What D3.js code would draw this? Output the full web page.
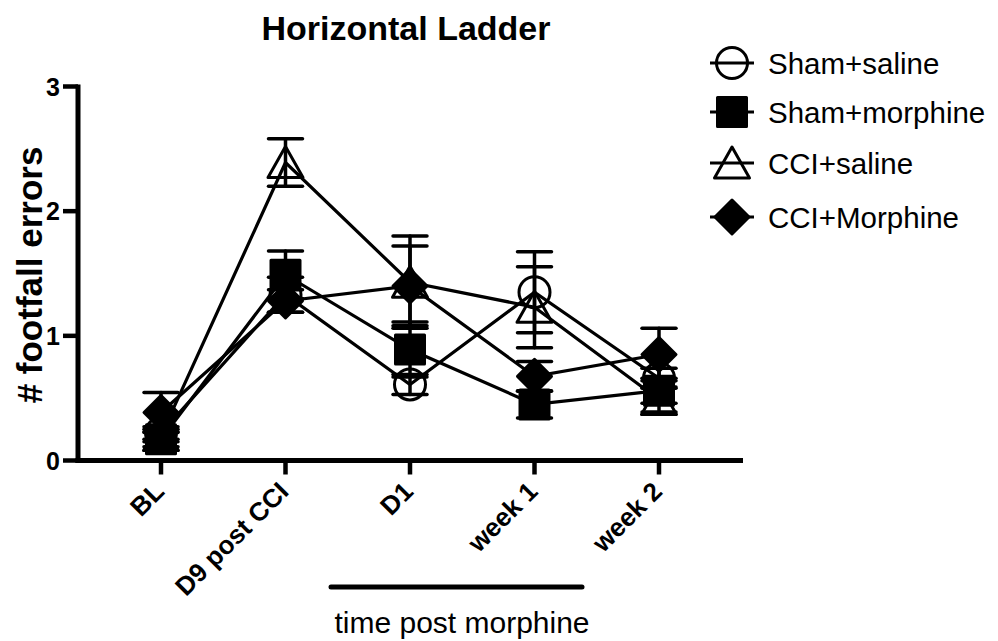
<!DOCTYPE html>
<html>
<head>
<meta charset="utf-8">
<script src="https://cdn.jsdelivr.net/npm/d3@7"></script>
<style>
  html, body { margin: 0; padding: 0; background: #fff; }
  svg { display: block; font-family: "Liberation Sans", Arial, Helvetica, sans-serif; }
</style>
</head>
<body>
<svg id="chart" width="998" height="641"></svg>
<script>
// Time points on the x axis
const timepoints = ["BL", "D9 post CCI", "D1", "week 1", "week 2"];

// Group means (# footfall errors) and SEM per time point
const shamSalineMean     = [0.22, 1.33, 0.61, 1.35, 0.66];
const shamSalineErr      = [0.05, 0.14, 0.08, 0.325, 0.08];
const shamMorphineMean   = [0.17, 1.49, 0.89, 0.45, 0.56];
const shamMorphineErr    = [0.06, 0.19, 0.22, 0.11, 0.10];
const cciSalineMean      = [0.20, 2.39, 1.43, 1.23, 0.49];
const cciSalineErr       = [0.05, 0.19, 0.37, 0.325, 0.10];
const cciMorphineMean    = [0.385, 1.28, 1.40, 0.675, 0.85];
const cciMorphineErr     = [0.16, 0.09, 0.32, 0.12, 0.21];

const seriesNames = ["Sham+saline", "Sham+morphine", "CCI+saline", "CCI+Morphine"];
const seriesSymbols = ["circle", "square", "triangle", "diamond"];

const yTicks = [0, 1, 2, 3];

const series = [
  { name: seriesNames[0], symbol: seriesSymbols[0], mean: shamSalineMean,   err: shamSalineErr },
  { name: seriesNames[1], symbol: seriesSymbols[1], mean: shamMorphineMean, err: shamMorphineErr },
  { name: seriesNames[2], symbol: seriesSymbols[2], mean: cciSalineMean,    err: cciSalineErr },
  { name: seriesNames[3], symbol: seriesSymbols[3], mean: cciMorphineMean,  err: cciMorphineErr }
];

const svg = d3.select("#chart");

const x = d3.scalePoint().domain(timepoints).range([161, 659]);
const y = d3.scaleLinear().domain([0, 3]).range([460.5, 86.5]);

const axisLeftX = 78;
const axisRightX = 743;

// Marker outlines (open circle/triangle, filled square/diamond)
function markerPath(kind) {
  switch (kind) {
    case "circle": {
      const p = d3.path(); p.arc(0, 0, 15.5, 0, Math.PI * 2); p.closePath(); return p.toString();
    }
    case "square": return "M-14.5,-14.5H14.5V14.5H-14.5Z";
    case "triangle": return "M0,-16L17.5,15H-17.5Z";
    case "diamond": return "M0,-17L17,0L0,17L-17,0Z";
  }
}
const filled = { circle: false, square: true, triangle: false, diamond: true };

function drawMarker(g, kind, cx, cy) {
  g.append("path")
    .attr("d", markerPath(kind))
    .attr("transform", `translate(${cx},${cy})`)
    .attr("fill", filled[kind] ? "#000" : "none")
    .attr("stroke", "#000")
    .attr("stroke-width", 3)
    .attr("stroke-linejoin", "round");
}

const plot = svg.append("g");

// Connecting lines
const line = d3.line().x((d, i) => x(timepoints[i])).y(d => y(d));
series.forEach(s => {
  plot.append("path")
    .attr("d", line(s.mean))
    .attr("fill", "none")
    .attr("stroke", "#000")
    .attr("stroke-width", 3.2);
});

// Error bars
series.forEach(s => {
  s.mean.forEach((m, i) => {
    const cx = x(timepoints[i]);
    const g = plot.append("g").attr("stroke", "#000").attr("stroke-width", 3.5).attr("stroke-linecap", "round");
    g.append("line").attr("x1", cx).attr("x2", cx).attr("y1", y(m - s.err[i])).attr("y2", y(m + s.err[i]));
    [m - s.err[i], m + s.err[i]].forEach(v => {
      g.append("line").attr("x1", cx - 17).attr("x2", cx + 17).attr("y1", y(v)).attr("y2", y(v));
    });
  });
});

// Markers
series.forEach(s => {
  s.mean.forEach((m, i) => drawMarker(plot, s.symbol, x(timepoints[i]), y(m)));
});

// Y axis
const yAxis = svg.append("g");
yAxis.append("line")
  .attr("x1", axisLeftX).attr("x2", axisLeftX)
  .attr("y1", y(3) - 2).attr("y2", y(0) + 2.5)
  .attr("stroke", "#000").attr("stroke-width", 5);
yTicks.forEach(t => {
  yAxis.append("line")
    .attr("x1", axisLeftX - 15).attr("x2", axisLeftX)
    .attr("y1", y(t)).attr("y2", y(t))
    .attr("stroke", "#000").attr("stroke-width", 4.5);
  yAxis.append("text")
    .attr("x", 60).attr("y", y(t))
    .attr("dy", "0.36em")
    .attr("text-anchor", "end")
    .attr("font-size", 25).attr("font-weight", "bold")
    .text(t);
});

// X axis
const xAxis = svg.append("g");
xAxis.append("line")
  .attr("x1", axisLeftX - 2.5).attr("x2", axisRightX)
  .attr("y1", y(0)).attr("y2", y(0))
  .attr("stroke", "#000").attr("stroke-width", 5);
timepoints.forEach(t => {
  const tx = x(t);
  xAxis.append("line")
    .attr("x1", tx).attr("x2", tx)
    .attr("y1", y(0)).attr("y2", y(0) + 14)
    .attr("stroke", "#000").attr("stroke-width", 4.5);
  xAxis.append("text")
    .attr("transform", `translate(${tx - 2},${y(0) + 26}) rotate(-45)`)
    .attr("text-anchor", "end")
    .attr("dy", "0.36em")
    .attr("font-size", 26).attr("font-weight", "bold")
    .text(t);
});

// Bracket marking the post-morphine period
svg.append("line")
  .attr("x1", 331).attr("x2", 582).attr("y1", 587).attr("y2", 587)
  .attr("stroke", "#000").attr("stroke-width", 5).attr("stroke-linecap", "round");
svg.append("text")
  .attr("x", 462).attr("y", 633)
  .attr("text-anchor", "middle")
  .attr("font-size", 30)
  .text("time post morphine");

// Title
svg.append("text")
  .attr("x", 406).attr("y", 40)
  .attr("text-anchor", "middle")
  .attr("font-size", 34).attr("font-weight", "bold")
  .text("Horizontal Ladder");

// Y axis title
svg.append("text")
  .attr("transform", "translate(42,275) rotate(-90)")
  .attr("text-anchor", "middle")
  .attr("font-size", 35).attr("font-weight", "bold")
  .text("# footfall errors");

// Legend
const legendY = [63, 112, 163, 217];
const legend = svg.append("g");
series.forEach((s, i) => {
  const ly = legendY[i];
  legend.append("line")
    .attr("x1", 710).attr("x2", 754).attr("y1", ly).attr("y2", ly)
    .attr("stroke", "#000").attr("stroke-width", 3.2);
  drawMarker(legend, s.symbol, 732, ly);
  legend.append("text")
    .attr("x", 768).attr("y", ly)
    .attr("dy", "0.36em")
    .attr("font-size", 29.5)
    .text(s.name);
});
</script>
</body>
</html>
